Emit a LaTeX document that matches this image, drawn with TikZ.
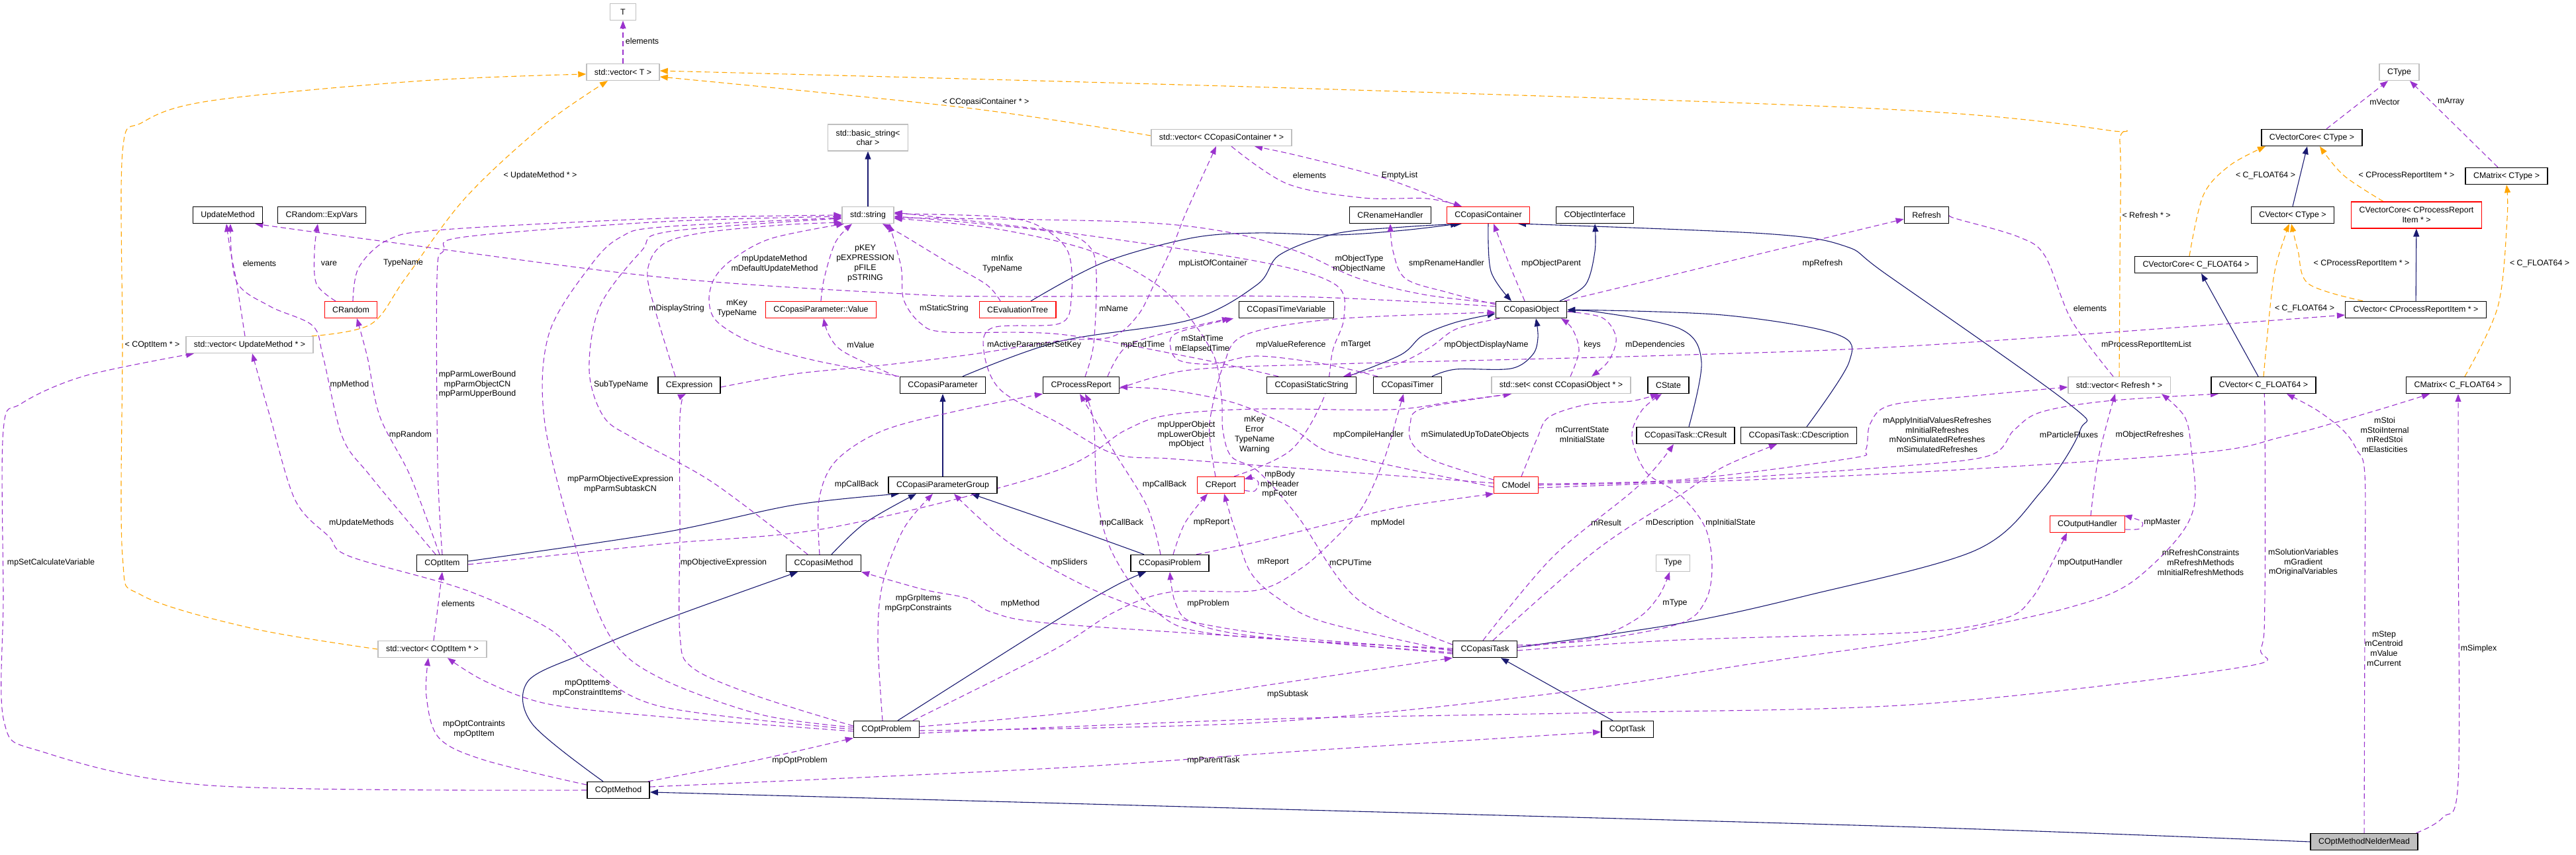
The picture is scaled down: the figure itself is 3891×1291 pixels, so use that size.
\documentclass[tikz,border=0pt]{standalone}
\usepackage{fontspec}
\setmainfont{Liberation Sans}
\usetikzlibrary{arrows.meta}
\definecolor{usecol}{HTML}{9A32CD}
\definecolor{tplcol}{HTML}{FFA500}
\definecolor{inhcol}{HTML}{191970}
\definecolor{greyb}{HTML}{BFBFBF}
\newcommand{\fs}{\fontsize{12.4}{14.7}\selectfont}
\pgfdeclarelayer{edgelayer}
\pgfsetlayers{edgelayer,main}
\begin{document}
\begin{tikzpicture}[x=1pt,y=-1pt,
  cls/.style={draw=black,line width=1.4pt,fill=white,font=\fs,inner xsep=12pt,inner ysep=0pt,minimum height=25pt,align=center},
  redc/.style={cls,draw=red,line width=1.1pt},
  greyc/.style={cls,draw=greyb,line width=1.3pt},
  lbl/.style={font=\fs,align=center,inner sep=0pt},
  usedge/.style={draw=usecol,line width=1.1pt,dash pattern=on 8pt off 5pt,-{Triangle[length=12pt,width=9pt]}},
  tpledge/.style={draw=tplcol,line width=1.1pt,dash pattern=on 8pt off 5pt,-{Triangle[length=12pt,width=9pt]}},
  inhedge/.style={draw=inhcol,line width=1.1pt,-{Triangle[length=12pt,width=9pt]}},
  smoothp/.style={smooth,tension=0.55}]
\useasboundingbox (0,0) rectangle (3891,1291);
% ---------------- nodes
\node[greyc,minimum width=39pt] (T) at (941,18) {T};
\node[greyc] (vecT) at (941,109) {std::vector< T >};
\node[cls] (UM) at (344,325) {UpdateMethod};
\node[cls] (ExpVars) at (486,325) {CRandom::ExpVars};
\node[redc] (CRandom) at (530,468) {CRandom};
\node[greyc] (vecUM) at (377,521) {std::vector< UpdateMethod * >};
\node[greyc,minimum height=40pt] (bstr) at (1311,208) {std::basic\_string<\\char >};
\node[greyc] (str) at (1311,325) {std::string};
\node[greyc] (vecCC) at (1845,208) {std::vector< CCopasiContainer * >};
\node[redc] (Value) at (1240,468) {CCopasiParameter::Value};
\node[redc] (Eval) at (1537,468) {CEvaluationTree};
\node[cls] (TimeVar) at (1943,468) {CCopasiTimeVariable};
\node[cls] (CExpr) at (1041,582) {CExpression};
\node[cls] (CPar) at (1424,582) {CCopasiParameter};
\node[cls] (CPR) at (1633,582) {CProcessReport};
\node[cls] (StStr) at (1981,582) {CCopasiStaticString};
\node[cls] (Rename) at (2100,325) {CRenameHandler};
\node[redc] (Cont) at (2248,325) {CCopasiContainer};
\node[cls] (ObjInt) at (2409,325) {CObjectInterface};
\node[cls] (Refresh) at (2910,325) {Refresh};
\node[cls] (CObj) at (2313,468) {CCopasiObject};
\node[cls] (Timer) at (2126,582) {CCopasiTimer};
\node[greyc] (stdset) at (2358,582) {std::set< const CCopasiObject * >};
\node[cls] (CState) at (2520,582) {CState};
\node[cls] (CResult) at (2546,658) {CCopasiTask::CResult};
\node[cls] (CDesc) at (2717,658) {CCopasiTask::CDescription};
\node[greyc] (CType) at (3624,109) {CType};
\node[cls] (VCT) at (3492,208) {CVectorCore< CType >};
\node[cls] (CMT) at (3786,266) {CMatrix< CType >};
\node[cls] (CVT) at (3463,325) {CVector< CType >};
\node[redc,minimum height=40pt] (VCPRI) at (3650,325) {CVectorCore< CProcessReport\\Item * >};
\node[cls] (VCF) at (3317,400) {CVectorCore< C\_FLOAT64 >};
\node[cls] (CVPRI) at (3649,468) {CVector< CProcessReportItem * >};
\node[greyc] (vecRef) at (3201,582) {std::vector< Refresh * >};
\node[cls] (CVF) at (3419,582) {CVector< C\_FLOAT64 >};
\node[cls] (CMF) at (3713,582) {CMatrix< C\_FLOAT64 >};
\node[cls] (COptItem) at (668,851) {COptItem};
\node[greyc] (vecOI) at (653,981) {std::vector< COptItem * >};
\node[cls] (COptMethod) at (934,1194) {COptMethod};
\node[cls] (PGroup) at (1424,733) {CCopasiParameterGroup};
\node[redc] (CReport) at (1844,733) {CReport};
\node[cls] (CMethod) at (1244,851) {CCopasiMethod};
\node[cls] (CProblem) at (1767,851) {CCopasiProblem};
\node[cls] (COptProblem) at (1339,1102) {COptProblem};
\node[redc] (CModel) at (2290,733) {CModel};
\node[greyc] (Type) at (2527,851) {Type};
\node[cls] (CTask) at (2243,981) {CCopasiTask};
\node[cls] (COptTask) at (2458,1102) {COptTask};
\node[redc] (COH) at (3153,792) {COutputHandler};
\node[cls,fill=greyb] (NM) at (3571,1272) {COptMethodNelderMead};
\begin{pgfonlayer}{edgelayer}
% ---------------- template edges
\draw[tpledge] plot[smoothp] coordinates {([xshift=-3pt]vecUM.north east) (560,490) (612,421) (702,300) (820,190) ([xshift=-23pt]vecT.south)};
\draw[tpledge] plot[smoothp] coordinates {(vecOI.west) (383,950) (215,900) (185,840) (185,520) (185,230) (215,185) (320,152) (638,122) ([yshift=-3pt]vecT.west)};
\draw[tpledge] plot[smoothp] coordinates {([yshift=3pt]vecCC.west) (1460,163) ([yshift=-7pt]vecT.east)};
\draw[tpledge] plot[smoothp] coordinates {(vecRef.north) (3202,400) (3202,215) (3185,197) (2850,165) (1950,133) ([yshift=2pt]vecT.east)};
\draw[tpledge] plot[smoothp] coordinates {([xshift=-10pt]VCF.north) (3328,295) (3368,250) ([xshift=-70pt]VCT.south)};
\draw[tpledge] plot[smoothp] coordinates {([xshift=-50pt]VCPRI.north) (3540,265) ([xshift=12pt]VCT.south)};
\draw[tpledge] plot[smoothp] coordinates {([xshift=-80pt]CVPRI.north) (3487,429) (3471,379) ([xshift=-2pt]CVT.south)};
\draw[tpledge] plot[smoothp] coordinates {(CVF.north) (3434,421) (3451,358) ([xshift=-5pt]CVT.south)};
\draw[tpledge] plot[smoothp] coordinates {([xshift=10pt]CMF.north) (3773,463) (3787,330) (CMT.south)};
% ---------------- inheritance edges
\draw[inhedge] (str) -- (bstr);
\draw[inhedge] (CVT.north) -- ([xshift=-7pt]VCT.south);
\draw[inhedge] (CVPRI) -- (VCPRI);
\draw[inhedge] ([xshift=-8pt]CVF.north) -- ([xshift=8pt]VCF.south);
\draw[inhedge] plot[smoothp] coordinates {([xshift=43pt]CObj.north) (2395,430) (2409,380) (ObjInt.south)};
\draw[inhedge] plot[smoothp] coordinates {(Cont.south) (2252,410) ([xshift=-30pt]CObj.north)};
\draw[inhedge] plot[smoothp] coordinates {([xshift=20pt]Eval.north) (1666,397) (1798,360) (1898,352) (2017,355) (2120,348) ([xshift=-45pt]Cont.south)};
\draw[inhedge] plot[smoothp] coordinates {([xshift=30pt]CPar.north) (1600,516) (1799,483) (1899,430) (1933,385) (2018,353) (2120,343) ([xshift=-40pt]Cont.south)};
\draw[inhedge] plot[smoothp] coordinates {([xshift=55pt]StStr.north) (2116,536) (2149,507) (2199,487) ([yshift=-6pt]CObj.west)};
\draw[inhedge] plot[smoothp] coordinates {([xshift=37pt]Timer.north) (2199,558) (2282,557) (2315,536) (2323,510) ([xshift=7pt]CObj.south)};
\draw[inhedge] plot[smoothp] coordinates {([xshift=5pt]CResult.north) (2570,547) (2538,497) (2410,471) ([yshift=-3pt]CObj.east)};
\draw[inhedge] plot[smoothp] coordinates {([xshift=12pt]CDesc.north) (2793,547) (2774,505) (2602,476) (CObj.east)};
\draw[inhedge] plot[smoothp] coordinates {([yshift=3pt]CTask.east) (2538,942) (2729,900) (2983,832) (3082,744) (3142,650) (3125,610) (2850,415) (2787,372) (2665,353) ([xshift=45pt]Cont.south)};
\draw[inhedge] (PGroup) -- (CPar);
\draw[inhedge] plot[smoothp] coordinates {([yshift=3pt]COptItem.east) (1000,805) (1200,763) ([xshift=-66pt]PGroup.south)};
\draw[inhedge] plot[smoothp] coordinates {([xshift=12pt]CMethod.north) (1307,790) ([xshift=-40pt]PGroup.south)};
\draw[inhedge] plot[smoothp] coordinates {([xshift=-39pt]CProblem.north) (1620,799) ([xshift=43pt]PGroup.south)};
\draw[inhedge] plot[smoothp] coordinates {([xshift=-23pt]COptMethod.north) (804,1094) (797,1030) (880,988) (1000,938) ([xshift=-39pt]CMethod.south)};
\draw[inhedge] plot[smoothp] coordinates {([xshift=17pt]COptProblem.north) (1588,942) (1683,886) ([xshift=-36pt]CProblem.south)};
\draw[inhedge] ([xshift=-22pt]COptTask.north) -- ([xshift=24pt]CTask.south);
\draw[inhedge] plot[smoothp] coordinates {(NM.west) (2900,1250) (1900,1222) ([yshift=-3pt]COptMethod.east)};
% ---------------- usage edges
\draw[usedge] (vecT) -- (T);
\draw[usedge] plot[smoothp] coordinates {([xshift=-7pt]vecUM.north) (357,425) (348,379) ([xshift=-2pt]UM.south)};
\draw[usedge] plot[smoothp] coordinates {([xshift=-23pt]CRandom.north) (478,429) (475,379) ([xshift=-6pt]ExpVars.south)};
\draw[usedge] plot[smoothp] coordinates {([xshift=3pt]CRandom.north) (542,404) (587,362) (670,347) (1000,330) (str.west)};
\draw[usedge] plot[smoothp] coordinates {([xshift=-10pt]COptItem.north) (560,720) (517,660) (488,539) (472,492) (408,463) (357,425) ([xshift=4pt]UM.south)};
\draw[usedge] plot[smoothp] coordinates {([xshift=-4pt]COptItem.north) (620,720) (574,630) (555,540) ([xshift=9pt]CRandom.south)};
\draw[usedge] plot[smoothp] coordinates {(COptItem.north) (661,700) (660,421) (670,379) (702,358) (1000,335) ([yshift=-2pt]str.west)};
\draw[usedge] plot[smoothp] coordinates {([yshift=3pt]COptProblem.west) (1150,1080) (1000,1026) (925,967) (874,841) (823,640) (829,505) (893,400) (938,358) (1000,343) ([yshift=-4pt]str.west)};
\draw[usedge] plot[smoothp] coordinates {([xshift=-24pt]CMethod.north) (1078,730) (960,664) (912,630) (890,560) (906,463) (969,379) (1010,350) ([yshift=-5pt]str.west)};
\draw[usedge] plot[smoothp] coordinates {([xshift=-21pt]CExpr.north) (990,470) (978,410) (1000,370) (1060,352) (1180,340) ([yshift=2pt]str.south west)};
\draw[usedge] plot[smoothp] coordinates {([xshift=-66pt]CPar.north) (1232,545) (1139,519) (1083,486) (1071,453) (1080,419) (1109,390) (1166,360) ([xshift=-36pt]str.south)};
\draw[usedge] plot[smoothp] coordinates {([yshift=5pt]CObj.west) (1950,448) (1517,448) (1365,444) (1000,419) (574,364) ([xshift=-12pt]UM.south east)};
\draw[usedge] plot[smoothp] coordinates {(Value.north) (1245,420) (1262,366) ([xshift=-24pt]str.south)};
\draw[usedge] plot[smoothp] coordinates {([xshift=-70pt]CPar.north) (1275,532) (1252,506) ([xshift=4pt]Value.south)};
\draw[usedge] plot[smoothp] coordinates {([xshift=-26pt]Eval.north) (1490,430) (1431,396) (1365,356) ([xshift=22pt]str.south)};
\draw[usedge] plot[smoothp] coordinates {([xshift=-50pt]StStr.north) (1800,540) (1600,505) (1431,502) (1391,489) (1365,453) (1361,403) ([xshift=32pt]str.south)};
\draw[usedge] plot[smoothp] coordinates {([xshift=6pt]CPR.north) (1652,519) (1656,413) (1645,372) (1600,352) (1450,335) ([yshift=-2pt]str.east)};
\draw[usedge] plot[smoothp] coordinates {([yshift=-3pt]CExpr.east) (1200,565) (1332,552) (1464,536) (1600,515) (1679,509) (1719,476) (1745,426) (1772,370) (1792,320) ([xshift=-8pt]vecCC.south)};
\draw[usedge] plot[smoothp] coordinates {([yshift=3pt]CModel.west) (1898,703) (1766,693) (1683,686) (1600,640) (1511,589) (1486,530) (1500,495) (1600,489) (1618,453) (1613,380) (1566,340) (1500,327) ([yshift=2pt]str.east)};
\draw[usedge] plot[smoothp] coordinates {([xshift=40pt]CPR.north) (1700,525) (1760,503) ([xshift=-85pt]TimeVar.south)};
\draw[usedge] plot[smoothp] coordinates {([xshift=-45pt]Timer.north) (2000,550) (1898,538) (1832,550) (1782,545) (1768,525) (1778,503) ([xshift=-80pt]TimeVar.south)};
\draw[usedge] plot[smoothp] coordinates {([xshift=-8pt]CReport.north) (1829,676) (1828,632) (1848,552) (1881,506) (2017,482) ([yshift=-4pt]CObj.west)};
\draw[usedge] plot[smoothp] coordinates {([xshift=20pt]CReport.north) (1950,680) (2000,600) (2013,530) (2030,480) (2017,430) (1900,395) (1600,350) ([yshift=4pt]str.east)};
\draw[usedge] plot[smoothp] coordinates {([yshift=7pt]CTask.west) (2050,905) (1960,780) (1900,712) (1860,690) (1847,650) (1845,600) (1830,530) (1760,440) (1650,380) (1500,345) ([yshift=-5pt]str.east)};
\draw[usedge] plot[smoothp] coordinates {([yshift=-2pt]COptItem.east) (1000,822) (1256,797) (1588,714) (1700,650) (1766,627) (1898,618) (2100,619) (2199,606) ([xshift=-75pt]stdset.south)};
\draw[usedge] plot[smoothp] coordinates {([xshift=-48pt]CObj.south) (2200,497) (2160,525) (2110,550) ([xshift=48pt]StStr.north)};
\draw[usedge] plot[smoothp] coordinates {([xshift=14pt]stdset.north) (2385,530) (2375,497) ([xshift=45pt]CObj.south)};
\draw[usedge] plot[smoothp] coordinates {([yshift=-3pt]CObj.east) (2420,480) (2441,510) (2430,545) ([xshift=46pt]stdset.north)};
\draw[usedge] plot[smoothp] coordinates {([xshift=-10pt]CObj.north) (2280,400) ([xshift=8pt]Cont.south)};
\draw[usedge] plot[smoothp] coordinates {([yshift=8pt]CObj.west) (2187,442) (2123,421) (2104,379) (Rename.south)};
\draw[usedge] plot[smoothp] coordinates {([yshift=10pt]CObj.west) (2150,445) (2050,420) (1960,380) (1850,350) (1700,335) ([yshift=-4pt]str.east)};
\draw[usedge] ([xshift=50pt]CObj.north) -- ([yshift=-6pt]Refresh.west);
\draw[usedge] plot[smoothp] coordinates {([xshift=15pt]vecCC.south) (1945,278) (2059,299) (2155,300) ([xshift=-40pt]Cont.north)};
\draw[usedge] plot[smoothp] coordinates {([xshift=-45pt]Cont.north) (2091,269) (1964,236) ([xshift=50pt]vecCC.south)};
\draw[usedge] plot[smoothp] coordinates {([xshift=40pt]COptProblem.north) (1588,984) (1683,925) (1766,895) (1898,892) (1965,859) (2015,815) (2058,766) (2091,693) (2110,630) ([xshift=-6pt]Timer.south)};
\draw[usedge] plot[smoothp] coordinates {([yshift=-3pt]CModel.west) (2066,696) (2000,680) (1948,645) (1865,609) (1765,589) ([yshift=-3pt]CPR.east)};
\draw[usedge] plot[smoothp] coordinates {([yshift=8pt]CModel.west) (2166,696) (2133,670) (2130,640) (2150,617) ([xshift=-75pt]stdset.south)};
\draw[usedge] plot[smoothp] coordinates {([xshift=8pt]CModel.north) (2322,662) (2340,630) (2398,611) (2465,606) ([xshift=-15pt]CState.south)};
\draw[usedge] plot[smoothp] coordinates {([yshift=6pt]CTask.east) (2410,967) (2538,942) (2576,908) (2586,857) (2576,798) (2538,748) (2487,714) (2465,660) (2480,620) ([xshift=-10pt]CState.south)};
\draw[usedge] plot[smoothp] coordinates {([yshift=2pt]CModel.east) (2538,725) (2793,693) (2818,680) (2825,640) (2857,612) (2983,598) ([yshift=-3pt]vecRef.west)};
\draw[usedge] plot[smoothp] coordinates {(CModel.east) (2538,727) (2850,706) (3003,689) (3042,650) (3082,623) (3182,606) ([xshift=-68pt]CVF.south)};
\draw[usedge] plot[smoothp] coordinates {([xshift=5pt]COH.north) (3168,700) (3185,630) ([xshift=-6pt]vecRef.south)};
\draw[usedge] plot[smoothp] coordinates {([yshift=-2pt]COptProblem.east) (1900,1092) (2346,1048) (2666,1000) (2900,967) (2983,950) (3129,917) (3215,883) (3288,815) (3315,760) (3310,680) (3300,630) ([xshift=64pt]vecRef.south)};
\draw[usedge] plot[smoothp] coordinates {([yshift=-6pt]COptProblem.east) (1900,1087) (2410,1077) (2900,1064) (3381,1009) (3415,980) (3421,900) (3421,630) (CVF.south)};
\draw[usedge] plot[smoothp] coordinates {(NM.north) (3572,900) (3572,718) (3560,680) (3540,651) (3500,620) ([xshift=35pt]CVF.south)};
\draw[usedge] plot[smoothp] coordinates {([xshift=-3pt]NM.north east) (3690,1235) (3713,1180) (3713,800) (CMF.south)};
\draw[usedge] plot[smoothp] coordinates {([yshift=-4pt]CModel.east) (2850,716) (3315,685) (3448,660) (3580,623) ([xshift=-43pt]CMF.south)};
\draw[usedge] plot[smoothp] coordinates {([xshift=-3pt]CTask.north) (2346,841) (2474,735) ([xshift=-18pt]CResult.south)};
\draw[usedge] plot[smoothp] coordinates {([xshift=12pt]CTask.north) (2410,832) (2538,748) (2602,706) ([xshift=-33pt]CDesc.south)};
\draw[usedge] plot[smoothp] coordinates {([yshift=3pt]CTask.east) (2410,963) (2474,934) (2506,900) ([xshift=-5pt]Type.south)};
\draw[usedge] plot[smoothp] coordinates {([yshift=-2pt]CTask.east) (2538,967) (2900,955) (3029,934) (3069,904) (3100,850) ([xshift=-31pt]COH.south)};
\draw[usedge] plot[smoothp] coordinates {([yshift=-8pt]COH.east) (3232,799) (3235,788) ([xshift=-2pt]COH.north east)};
\draw[usedge] plot[smoothp] coordinates {([yshift=-3pt]CTask.west) (2000,940) (1932,905) (1889,865) (1865,799) ([xshift=5pt]CReport.south)};
\draw[usedge] plot[smoothp] coordinates {([xshift=5pt]CProblem.north) (1790,790) ([xshift=-20pt]CReport.south)};
\draw[usedge] plot[smoothp] coordinates {([yshift=-8pt]CReport.east) (1895,742) (1901,730) (1893,722) ([yshift=9pt]CReport.east)};
\draw[usedge] plot[smoothp] coordinates {([yshift=-5pt]CTask.west) (1900,962) (1800,940) (1775,910) (CProblem.south)};
\draw[usedge] plot[smoothp] coordinates {([yshift=-7pt]CTask.west) (1950,967) (1588,942) (1498,925) (1460,904) (1396,891) (CMethod.south east)};
\draw[usedge] plot[smoothp] coordinates {([yshift=-1pt]CTask.west) (1950,963) (1779,935) (1651,891) (1524,820) ([xshift=17pt]PGroup.south)};
\draw[usedge] plot[smoothp] coordinates {([yshift=1pt]CTask.west) (1843,959) (1747,925) (1683,841) (1658,756) (1652,640) ([xshift=6pt]CPR.south)};
\draw[usedge] plot[smoothp] coordinates {([xshift=-14pt]CProblem.north) (1733,766) (1683,683) ([xshift=-2pt]CPR.south)};
\draw[usedge] plot[smoothp] coordinates {([xshift=-6pt]CMethod.north) (1237,756) (1262,697) (1333,651) (1450,620) (CPR.south west)};
\draw[usedge] plot[smoothp] coordinates {([xshift=40pt]CProblem.north) (1898,819) (2031,786) (2117,766) (CModel.south west)};
\draw[usedge] plot[smoothp] coordinates {([yshift=5pt]COptProblem.west) (1141,1051) (1046,1009) (1027,960) (1027,800) (1027,630) ([xshift=-5pt]CExpr.south)};
\draw[usedge] plot[smoothp] coordinates {([xshift=-6pt]COptProblem.north) (1326,967) (1333,883) (1365,799) ([xshift=-15pt]PGroup.south)};
\draw[usedge] plot[smoothp] coordinates {([yshift=-3pt]COptProblem.west) (1000,1083) (829,1064) (734,1030) ([xshift=23pt]vecOI.south)};
\draw[usedge] plot[smoothp] coordinates {([yshift=8pt]COptMethod.west) (733,1149) (663,1115) (644,1052) ([xshift=-6pt]vecOI.south)};
\draw[usedge] plot[smoothp] coordinates {([xshift=-3pt]COptMethod.north east) (1141,1149) (COptProblem.south west)};
\draw[usedge] plot[smoothp] coordinates {([yshift=5pt]COptMethod.east) (1588,1161) (1950,1136) ([yshift=-4pt]COptTask.west)};
\draw[usedge] plot[smoothp] coordinates {([yshift=4pt]COptProblem.east) (1652,1073) (1950,1030) (CTask.south west)};
\draw[usedge] plot[smoothp] coordinates {(COptMethod.west) (319,1187) (64,1136) (6,1090) (5,900) (5,650) (32,610) (128,568) ([xshift=-84pt]vecUM.south)};
\draw[usedge] plot[smoothp] coordinates {(COptProblem.west) (1000,1068) (893,1009) (829,950) (702,891) (529,841) (497,811) (446,756) (408,630) ([xshift=4pt]vecUM.south)};
\draw[usedge] ([xshift=2pt]vecOI.north) -- (COptItem.south);
\draw[usedge] plot[smoothp] coordinates {([yshift=-5pt]CPR.east) (1798,559) (2017,550) (2520,537) (2900,522) ([yshift=-8pt]CVPRI.west)};
\draw[usedge] plot[smoothp] coordinates {([xshift=-9pt]vecRef.north) (3129,484) (3089,387) (3049,358) (2960,332) ([yshift=-3pt]Refresh.east)};
\draw[usedge] ([xshift=22pt]VCT.north) -- ([xshift=-17pt]CType.south);
\draw[usedge] ([xshift=-13pt]CMT.north) -- ([xshift=16pt]CType.south);
\end{pgfonlayer}
% ---------------- labels
\node[lbl] (l01) at (970,62) {elements};
\node[lbl] (l02) at (816,265) {< UpdateMethod * >};
\node[lbl] (l03) at (392,398) {elements};
\node[lbl] (l04) at (497,398) {vare};
\node[lbl] (l05) at (609,398) {TypeName};
\node[lbl] (l06) at (230,521) {< COptItem * >};
\node[lbl] (l07) at (528,581) {mpMethod};
\node[lbl] (l08) at (721,581) {mpParmLowerBound\\mpParmObjectCN\\mpParmUpperBound};
\node[lbl] (l09) at (938,581) {SubTypeName};
\node[lbl] (l10) at (620,657) {mpRandom};
\node[lbl] (l11) at (937,732) {mpParmObjectiveExpression\\mpParmSubtaskCN};
\node[lbl] (l12) at (546,790) {mUpdateMethods};
\node[lbl] (l13) at (77,850) {mpSetCalculateVariable};
\node[lbl] (l14) at (692,912) {elements};
\node[lbl] (l15) at (887,1040) {mpOptItems\\mpConstraintItems};
\node[lbl] (l16) at (716,1102) {mpOptContraints\\mpOptItem};
\node[lbl] (l17) at (1489,154) {< CCopasiContainer * >};
\node[lbl] (l18) at (1170,399) {mpUpdateMethod\\mDefaultUpdateMethod};
\node[lbl] (l19) at (1307,398) {pKEY\\pEXPRESSION\\pFILE\\pSTRING};
\node[lbl] (l20) at (1514,399) {mInfix\\TypeName};
\node[lbl] (l21) at (1832,398) {mpListOfContainer};
\node[lbl] (l22) at (1022,466) {mDisplayString};
\node[lbl] (l23) at (1113,466) {mKey\\TypeName};
\node[lbl] (l24) at (1426,466) {mStaticString};
\node[lbl] (l25) at (1682,466) {mName};
\node[lbl] (l26) at (1300,521) {mValue};
\node[lbl] (l27) at (1562,521) {mActiveParameterSetKey};
\node[lbl] (l28) at (1726,521) {mpEndTime};
\node[lbl] (l29) at (1816,520) {mStartTime\\mElapsedTime};
\node[lbl] (l30) at (1950,521) {mpValueReference};
\node[lbl] (l31) at (1792,657) {mpUpperObject\\mpLowerObject\\mpObject};
\node[lbl] (l32) at (1895,657) {mKey\\Error\\TypeName\\Warning};
\node[lbl] (l33) at (1978,265) {elements};
\node[lbl] (l34) at (2114,265) {EmptyList};
\node[lbl] (l35) at (2053,399) {mObjectType\\mObjectName};
\node[lbl] (l36) at (2185,398) {smpRenameHandler};
\node[lbl] (l37) at (2343,398) {mpObjectParent};
\node[lbl] (l38) at (2753,398) {mpRefresh};
\node[lbl] (l39) at (2048,521) {mTarget};
\node[lbl] (l40) at (2245,521) {mpObjectDisplayName};
\node[lbl] (l41) at (2405,521) {keys};
\node[lbl] (l42) at (2500,521) {mDependencies};
\node[lbl] (l43) at (2067,657) {mpCompileHandler};
\node[lbl] (l44) at (2228,657) {mSimulatedUpToDateObjects};
\node[lbl] (l45) at (2390,657) {mCurrentState\\mInitialState};
\node[lbl] (l46) at (2926,657) {mApplyInitialValuesRefreshes\\mInitialRefreshes\\mNonSimulatedRefreshes\\mSimulatedRefreshes};
\node[lbl] (l47) at (3125,657) {mParticleFluxes};
\node[lbl] (l48) at (3247,657) {mObjectRefreshes};
\node[lbl] (l49) at (3602,657) {mStoi\\mStoiInternal\\mRedStoi\\mElasticities};
\node[lbl] (l50) at (3602,154) {mVector};
\node[lbl] (l51) at (3702,154) {mArray};
\node[lbl] (l52) at (3422,265) {< C\_FLOAT64 >};
\node[lbl] (l53) at (3635,265) {< CProcessReportItem * >};
\node[lbl] (l54) at (3242,325) {< Refresh * >};
\node[lbl] (l55) at (3567,398) {< CProcessReportItem * >};
\node[lbl] (l56) at (3836,398) {< C\_FLOAT64 >};
\node[lbl] (l57) at (3157,466) {elements};
\node[lbl] (l58) at (3481,466) {< C\_FLOAT64 >};
\node[lbl] (l59) at (3242,521) {mProcessReportItemList};
\node[lbl] (l60) at (1294,732) {mpCallBack};
\node[lbl] (l61) at (1759,732) {mpCallBack};
\node[lbl] (l62) at (1933,732) {mpBody\\mpHeader\\mpFooter};
\node[lbl] (l63) at (1093,850) {mpObjectiveExpression};
\node[lbl] (l64) at (1615,850) {mpSliders};
\node[lbl] (l65) at (1923,850) {mReport};
\node[lbl] (l66) at (1694,790) {mpCallBack};
\node[lbl] (l67) at (1830,790) {mpReport};
\node[lbl] (l68) at (1387,912) {mpGrpItems\\mpGrpConstraints};
\node[lbl] (l69) at (1541,912) {mpMethod};
\node[lbl] (l70) at (1825,912) {mpProblem};
\node[lbl] (l71) at (1945,1049) {mpSubtask};
\node[lbl] (l72) at (1208,1149) {mpOptProblem};
\node[lbl] (l73) at (1833,1149) {mpParentTask};
\node[lbl] (l74) at (2096,790) {mpModel};
\node[lbl] (l75) at (2426,790) {mResult};
\node[lbl] (l76) at (2522,790) {mDescription};
\node[lbl] (l77) at (2614,790) {mpInitialState};
\node[lbl] (l78) at (2040,850) {mCPUTime};
\node[lbl] (l79) at (2530,912) {mType};
\node[lbl] (l80) at (3266,790) {mpMaster};
\node[lbl] (l81) at (3157,850) {mpOutputHandler};
\node[lbl] (l82) at (3324,850) {mRefreshConstraints\\mRefreshMethods\\mInitialRefreshMethods};
\node[lbl] (l83) at (3479,850) {mSolutionVariables\\mGradient\\mOriginalVariables};
\node[lbl] (l84) at (3601,980) {mStep\\mCentroid\\mValue\\mCurrent};
\node[lbl] (l85) at (3744,980) {mSimplex};
\end{tikzpicture}
\end{document}
